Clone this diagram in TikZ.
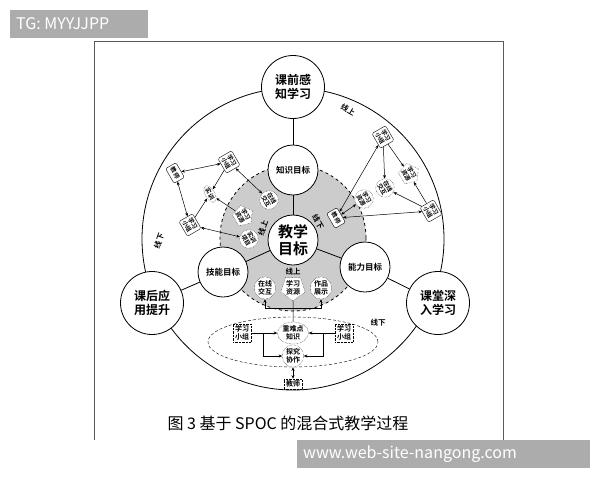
\documentclass[tikz,border=0pt]{standalone}
\usepackage{fontspec}
\setmainfont{Noto Sans CJK SC}[BoldFont={Noto Sans CJK SC Bold}]
\usetikzlibrary{shapes.geometric,arrows.meta,backgrounds}
\newcommand\tinycn{\fontsize{6}{6.5}\selectfont\bfseries}
\newcommand\smallcn{\fontsize{7}{8}\selectfont\bfseries}
\tikzset{
  bigc/.style={circle,draw,line width=0.8pt,fill=white,minimum size=63pt,inner sep=0pt,align=center,font=\fontsize{12}{14}\selectfont\bfseries},
  corec/.style={circle,draw,line width=0.8pt,fill=white,minimum size=50pt,inner sep=0pt,align=center,font=\fontsize{15}{17}\selectfont\bfseries},
  midc/.style={circle,draw,line width=0.8pt,fill=white,minimum size=50pt,inner sep=0pt,align=center,font=\fontsize{8.5}{10}\selectfont\bfseries},
  gbox/.style={draw,fill=white,rounded corners=1.5pt,inner sep=1.8pt,minimum width=17pt,minimum height=12pt,align=center,font=\tinycn,rotate=-60},
  gell/.style={ellipse,draw,densely dotted,fill=white,inner sep=0.5pt,align=center,font=\tinycn,rotate=-60},
  gpent/.style={regular polygon,regular polygon sides=5,draw,densely dotted,fill=white,inner sep=0pt,align=center,font=\tinycn,rotate=-60},
  bell/.style={ellipse,draw,densely dotted,fill=white,inner sep=0.5pt,align=center,font=\smallcn},
  bpent/.style={regular polygon,regular polygon sides=5,shape border rotate=180,draw,densely dotted,fill=white,inner sep=0pt,align=center,font=\smallcn},
  dbox/.style={draw,densely dotted,fill=white,inner sep=1.8pt,align=center,font=\smallcn},
  lbl/.style={font=\fontsize{7.5}{8}\selectfont\bfseries,inner sep=0.5pt},
  arr/.style={line width=0.5pt,-{Stealth[length=3.5pt,width=3pt]}},
  darr/.style={line width=0.5pt,{Stealth[length=3.5pt,width=3pt]}-{Stealth[length=3.5pt,width=3pt]}},
  wm/.style={text=white,font=\fontsize{16}{16}\selectfont,anchor=west,inner sep=0pt}
}
\begin{document}
\begin{tikzpicture}[x=1pt,y=-1pt]
\useasboundingbox (0,0) rectangle (600,480);
\draw[gray!70!black,line width=0.8pt] (94,440) -- (94,41) -- (503,41) -- (503,440);

\node[bigc] (pre) at (293,87) {课前感\\知学习};
\node[bigc] (post) at (152,303) {课后应\\用提升};
\node[bigc] (cls) at (438,303) {课堂深\\入学习};
\node[corec] (goal) at (293,240) {教学\\目标};
\node[midc] (know) at (293,170) {知识目标};
\node[midc] (skill) at (223,272) {技能目标};
\node[midc] (abil) at (365,267) {能力目标};

\node[gbox] (lteach) at (175,173) {教师};
\node[gbox] (lgrp1) at (229,162) {学习\\小组};
\node[gell] (ltrain) at (210,194) {实训};
\node[gbox] (lgrp2) at (190,225) {学习\\小组};
\node[gpent] (lres) at (243,216) {学习\\资源};
\node[gell] (lint) at (269,200) {在线\\交互};
\node[gell] (lproj) at (249,239) {实训\\项目};

\node[gbox] (rgrp1) at (383,137) {学习\\小组};
\node[gpent] (rres) at (409,174) {学习\\资源};
\node[gell] (rint) at (385,188) {在线\\交互};
\node[gell] (rres2) at (364,199) {学习\\资源};
\node[gbox] (rgrp2) at (431,211) {学习\\小组};
\node[gbox] (rteach) at (336,218) {教师};

\node[bell] (bint) at (265,288) {在线\\交互};
\node[bpent] (bres) at (293,288) {学习\\资源};
\node[bell] (bshow) at (321,288) {作品\\展示};
\node[bell] (keyk) at (293,333) {重难点\\知识};
\node[bell] (coop) at (293,356) {探究\\协作};
\node[dbox] (bgrp1) at (242,333) {学习\\小组};
\node[dbox] (bgrp2) at (344,333) {学习\\小组};
\node[dbox] (bteach) at (293,384) {教师};

\node[lbl,rotate=-30] (on1) at (348,110) {线上};
\node[lbl,rotate=70] (off1) at (159,241) {线下};
\node[lbl,rotate=70] (on2) at (263,228) {线上};
\node[lbl,rotate=-60] (off2) at (318,222) {线下};
\node[lbl] (on3) at (293,272) {线上};
\node[lbl] (off3) at (378,323) {线下};

\node[font=\fontsize{16}{16}\selectfont] (cap) at (288,423) {图 3 基于 SPOC 的混合式教学过程};

\begin{pgfonlayer}{background}
\draw[line width=0.8pt] (293,239) circle[radius=151pt];
\filldraw[fill=gray!40,line width=0.8pt,dashed] (293,238) circle[radius=73pt];
\draw[line width=0.8pt] (goal) -- (know) -- (pre);
\draw[line width=0.8pt] (goal) -- (skill) -- (post);
\draw[line width=0.8pt] (goal) -- (abil) -- (cls);
\draw[densely dashed] (293,342) ellipse[x radius=85pt,y radius=25pt];
\end{pgfonlayer}

\draw[darr] (lteach) -- (lgrp1);
\draw[darr] (lteach) -- (lgrp2);
\draw[arr] (lgrp1) -- (ltrain);
\draw[arr] (lgrp2) -- (ltrain);
\draw[arr] (lres) -- (ltrain);
\draw[darr] (lgrp1) -- (lint);
\draw[darr] (lgrp2) -- (lproj);

\draw[arr] (rgrp1) -- (rres);
\draw[arr] (rgrp1) -- (rint);
\draw[darr] (rgrp1) -- (rteach);
\draw[arr] (rgrp2) -- (rres);
\draw[arr] (rgrp2) -- (rint);
\draw[darr] (rgrp2) -- (rteach);
\draw[darr] (rteach) -- (rres2);

\coordinate (jn) at (293,308);
\coordinate (lb) at (263,333);
\coordinate (rb) at (323,333);
\draw[line width=0.5pt] (bres) -- (keyk);
\draw[arr] (jn) -| (bint);
\draw[arr] (jn) -| (bshow);
\draw[arr] (bgrp1) -- (keyk);
\draw[arr] (bgrp2) -- (keyk);
\draw[arr] (lb) |- (coop);
\draw[arr] (rb) |- (coop);
\draw[darr] (bteach) -- (coop);

\fill[gray!65] (10,10) rectangle (148,38);
\node[wm] (tg) at (16,24) {TG: MYYJJPP};
\fill[gray!65] (297,440) rectangle (590,468);
\node[wm] (site) at (303,454) {www.web-site-nangong.com};
\end{tikzpicture}
\end{document}
